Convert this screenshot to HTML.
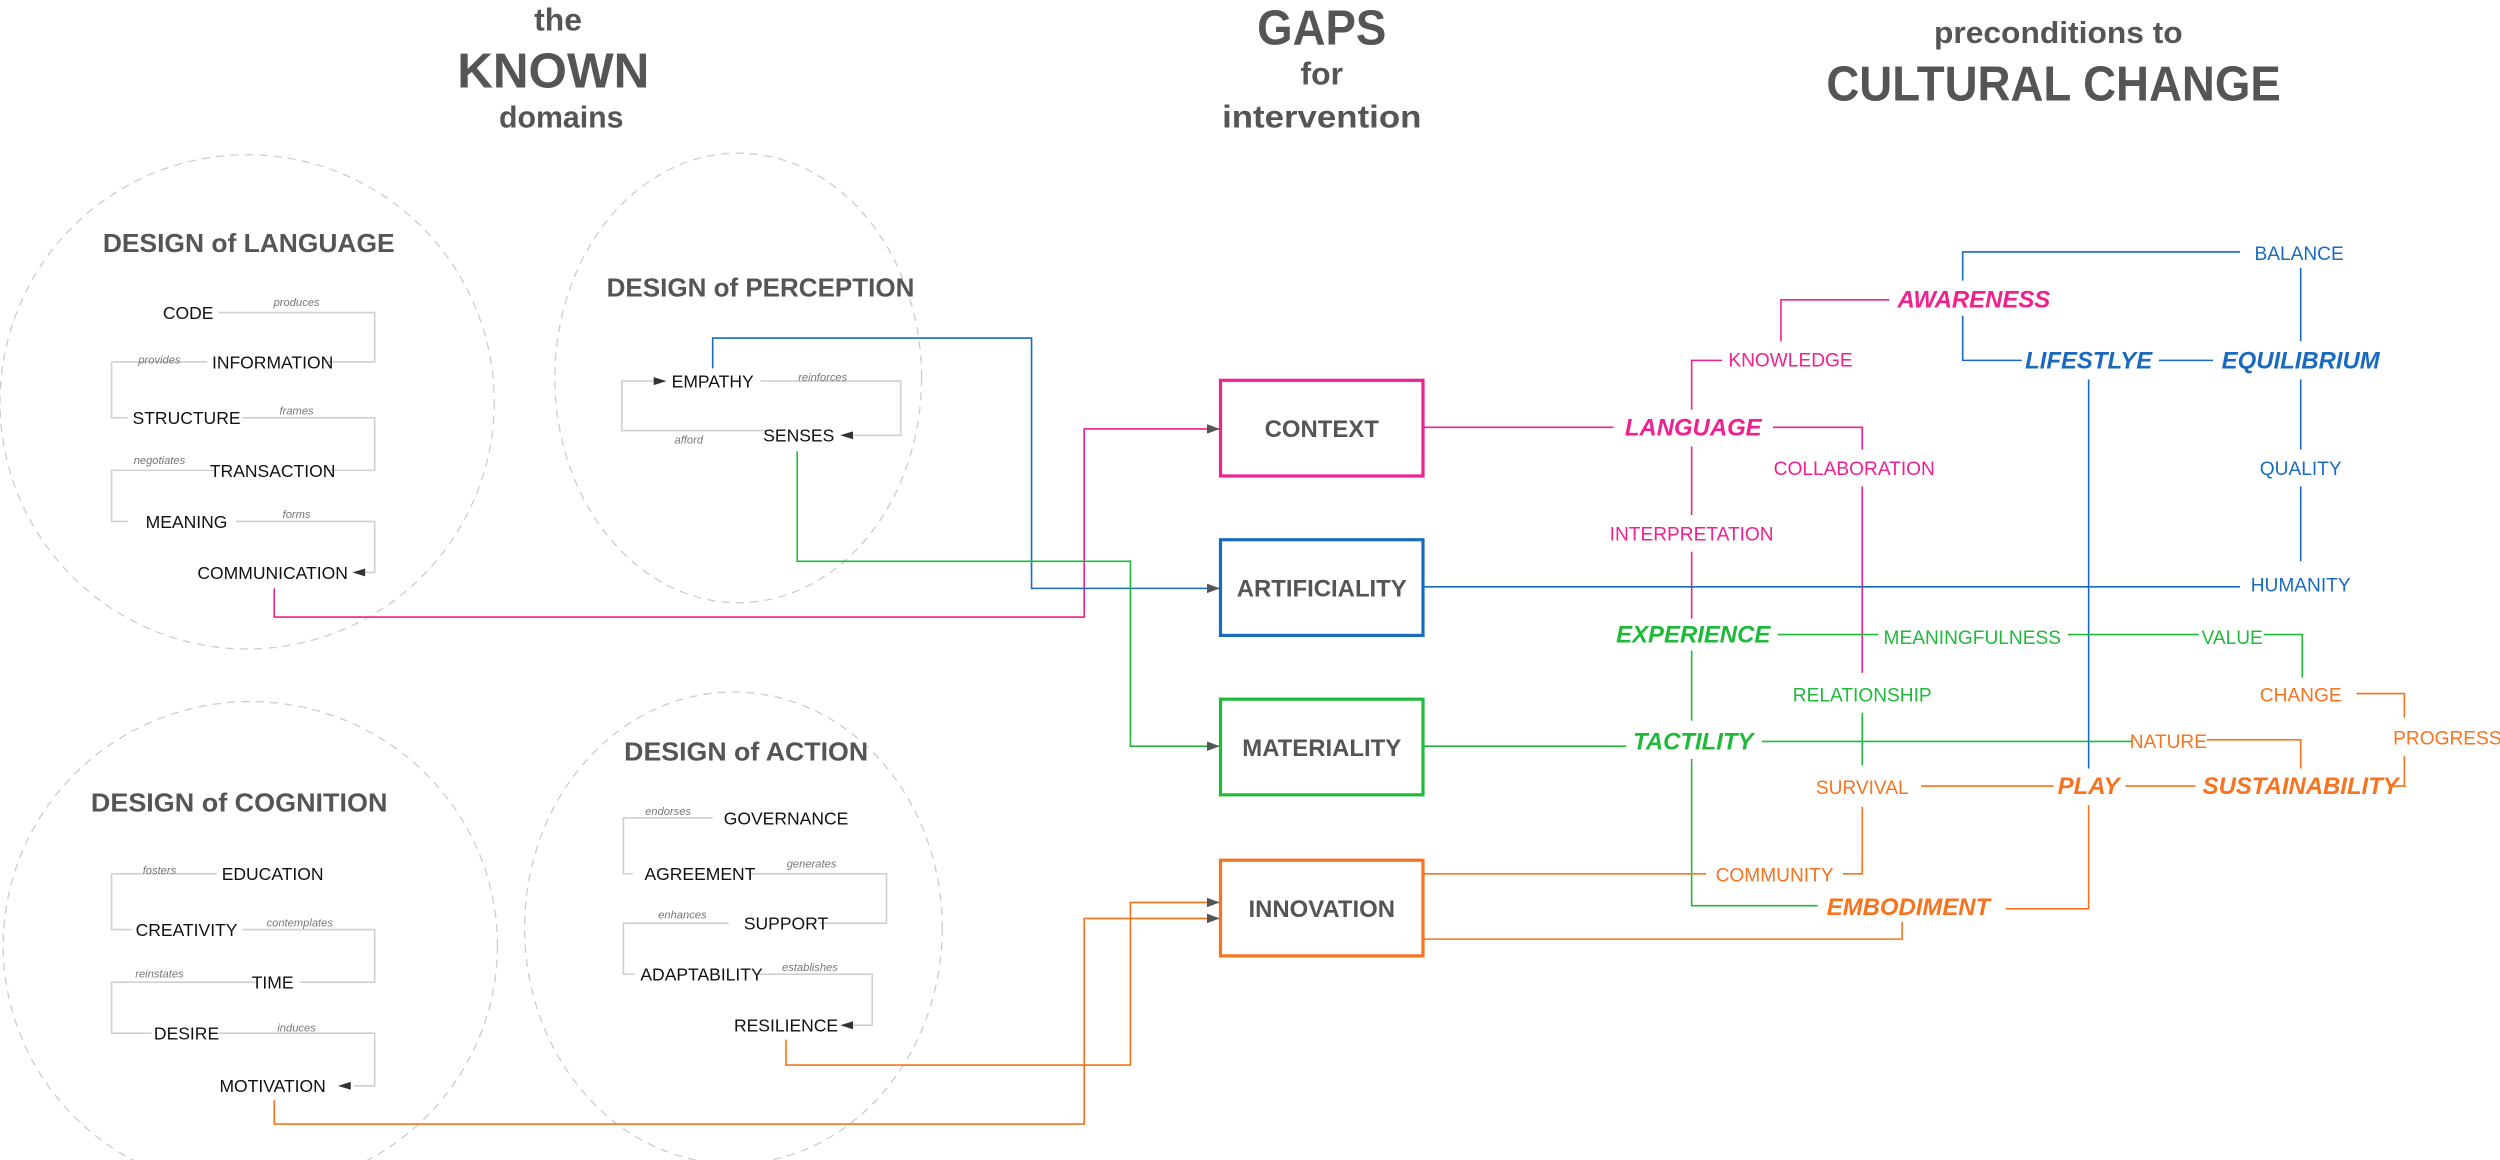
<!DOCTYPE html>
<html><head><meta charset="utf-8"><style>
html,body{margin:0;padding:0;background:#fff;}
svg{display:block;}
text{font-family:"Liberation Sans",sans-serif;}
.h{fill:#555;font-weight:bold;text-anchor:middle;}
.it{font-size:11px;fill:#111;text-anchor:middle;}
.sm{font-size:7px;fill:#777;font-style:italic;text-anchor:middle;}
.br{stroke:#d0d0d0;stroke-width:1;fill:none;}
.ci{stroke:#ccc;stroke-width:0.8;fill:none;stroke-dasharray:5 4;}
.bx{fill:#fff;stroke-width:2;}
.bl{font-size:15px;font-weight:bold;fill:#555;text-anchor:middle;}
.P{stroke:#f0208f;fill:none;stroke-width:1;}
.B{stroke:#1a6bbf;fill:none;stroke-width:1;}
.G{stroke:#1fba3a;fill:none;stroke-width:1;}
.O{stroke:#f7731e;fill:none;stroke-width:1;}
.n{font-size:12px;text-anchor:middle;}
.N{font-size:15px;text-anchor:middle;font-weight:bold;font-style:italic;}
.p{fill:#f0208f}.b{fill:#1a6bbf}.g{fill:#1fba3a}.o{fill:#f7731e}
</style></head><body>
<svg width="2500" height="1160" viewBox="0 0 1568 727.5" xmlns="http://www.w3.org/2000/svg">
<defs>
<marker id="ar" markerWidth="8" markerHeight="6" refX="8" refY="3" orient="auto" markerUnits="userSpaceOnUse"><path d="M0,0 L8,3 L0,6 Z" fill="#555"/></marker>
</defs>
<!-- headings -->
<text class="h" x="350" y="19" font-size="20">the</text>
<text class="h" x="347" y="55" font-size="31">KNOWN</text>
<text class="h" x="352" y="80" font-size="19">domains</text>
<text class="h" x="829" y="28" font-size="31" textLength="81" lengthAdjust="spacingAndGlyphs">GAPS</text>
<text class="h" x="829" y="53" font-size="20">for</text>
<text class="h" x="829" y="80" font-size="20" textLength="125" lengthAdjust="spacingAndGlyphs">intervention</text>
<text class="h" x="1291" y="27" font-size="19" textLength="156" lengthAdjust="spacingAndGlyphs">preconditions to</text>
<text class="h" x="1288" y="63" font-size="31" textLength="285" lengthAdjust="spacingAndGlyphs">CULTURAL CHANGE</text>

<!-- circles -->
<ellipse class="ci" cx="155" cy="252" rx="155" ry="155"/>
<ellipse class="ci" cx="463" cy="237" rx="115" ry="141"/>
<ellipse class="ci" cx="157" cy="593" rx="155" ry="153"/>
<ellipse class="ci" cx="460" cy="582" rx="131" ry="148"/>

<!-- Language -->
<text class="h" x="156" y="158" font-size="16" textLength="183" lengthAdjust="spacingAndGlyphs">DESIGN of LANGUAGE</text>
<path class="br" d="M137,196 H235 V227 H205 M130,227 H70 V262 H80 M152,262 H235 V295 H205 M135,295 H70 V327 H80 M148,327 H235 V359 H226"/>
<text class="it" x="118" y="200">CODE</text>
<text class="it" x="171" y="231">INFORMATION</text>
<text class="it" x="117" y="266">STRUCTURE</text>
<text class="it" x="171" y="299">TRANSACTION</text>
<text class="it" x="117" y="331">MEANING</text>
<text class="it" x="171" y="363">COMMUNICATION</text>
<path d="M221,359 l8,-2.5 v5z" fill="#333"/>
<text class="sm" x="186" y="192">produces</text>
<text class="sm" x="100" y="228">provides</text>
<text class="sm" x="186" y="260">frames</text>
<text class="sm" x="100" y="291">negotiates</text>
<text class="sm" x="186" y="325">forms</text>

<!-- Perception -->
<text class="h" x="477" y="186" font-size="16" textLength="193" lengthAdjust="spacingAndGlyphs">DESIGN of PERCEPTION</text>
<path class="br" d="M477,239 H565 V273 H530 M481,270 H390 V239 H412"/>
<path d="M418,239 l-8,-2.5 v5z" fill="#333"/>
<text class="it" x="447" y="243">EMPATHY</text>
<text class="it" x="501" y="277">SENSES</text>
<path d="M527,273 l8,-2.5 v5z" fill="#333"/>
<text class="sm" x="516" y="239">reinforces</text>
<text class="sm" x="432" y="278">afford</text>

<!-- Cognition -->
<text class="h" x="150" y="509" font-size="16" textLength="186" lengthAdjust="spacingAndGlyphs">DESIGN of COGNITION</text>
<path class="br" d="M136,548 H70 V583 H83 M152,583 H235 V616 H188 M160,616 H70 V648 H95 M137,648 H235 V681 H222"/>
<text class="it" x="171" y="552">EDUCATION</text>
<text class="it" x="117" y="587">CREATIVITY</text>
<text class="it" x="171" y="620">TIME</text>
<text class="it" x="117" y="652">DESIRE</text>
<text class="it" x="171" y="685">MOTIVATION</text>
<path d="M212,681 l8,-2.5 v5z" fill="#333"/>
<text class="sm" x="100" y="548">fosters</text>
<text class="sm" x="188" y="581">contemplates</text>
<text class="sm" x="100" y="613">reinstates</text>
<text class="sm" x="186" y="647">induces</text>

<!-- Action -->
<text class="h" x="468" y="477" font-size="16" textLength="153" lengthAdjust="spacingAndGlyphs">DESIGN of ACTION</text>
<path class="br" d="M447,513 H391 V548 H397 M470,548 H556 V579 H514 M457,579 H391 V611 H398 M475,611 H547 V643 H534"/>
<text class="it" x="493" y="517">GOVERNANCE</text>
<text class="it" x="439" y="552">AGREEMENT</text>
<text class="it" x="493" y="583">SUPPORT</text>
<text class="it" x="440" y="615">ADAPTABILITY</text>
<text class="it" x="493" y="647">RESILIENCE</text>
<path d="M527,643 l8,-2.5 v5z" fill="#333"/>
<text class="sm" x="419" y="511">endorses</text>
<text class="sm" x="509" y="544">generates</text>
<text class="sm" x="428" y="576">enhances</text>
<text class="sm" x="508" y="609">establishes</text>

<!-- connectors left -->
<path class="P" d="M172,369 V387 H680 V269 H765" marker-end="url(#ar)"/>
<path class="B" d="M447,231 V212 H647 V369 H765" marker-end="url(#ar)"/>
<path class="G" d="M500,283 V352 H709 V468 H765" marker-end="url(#ar)"/>
<path class="O" d="M493,652 V668 H709 V566 H765" marker-end="url(#ar)"/>
<path class="O" d="M172,690 V705 H680 V576 H765" marker-end="url(#ar)"/>

<!-- boxes -->
<rect class="bx" x="765.5" y="238.5" width="127" height="60" stroke="#f0208f"/>
<rect class="bx" x="765.5" y="338.5" width="127" height="60" stroke="#1a6bbf"/>
<rect class="bx" x="765.5" y="438.5" width="127" height="60" stroke="#1fba3a"/>
<rect class="bx" x="765.5" y="539.5" width="127" height="60" stroke="#f7731e"/>
<text class="bl" x="829" y="274">CONTEXT</text>
<text class="bl" x="829" y="374">ARTIFICIALITY</text>
<text class="bl" x="829" y="474">MATERIALITY</text>
<text class="bl" x="829" y="575">INNOVATION</text>

<!-- right connectors -->
<path class="P" d="M892,268 H1012 M1112,268 H1168 V282 M1168,305 V422 M1061,257 V226 H1080 M1117,214 V188 H1185 M1061,280 V323 M1061,346 V388"/>
<path class="B" d="M892,368 H1405 M1231,176 V158 H1405 M1231,198 V226 H1268 M1354,226 H1388 M1443,168 V214 M1443,238 V282 M1443,305 V352 M1310,238 V482"/>
<path class="G" d="M892,468 H1020 M1105,465 H1337 M1115,398 H1178 M1297,398 H1379 M1420,398 H1444 V425 M1061,408 V452 M1061,476 V568 H1140 M1168,447 V480"/>
<path class="O" d="M892,548 H1070 M1156,548 H1168 V506 M892,589 H1193 V578 M1384,464 H1443 V482 M1478,435 H1508 V450 M1508,474 V493 H1509 H1500 M1205,493 H1288 M1333,493 H1377 M1310,505 V570 H1258"/>

<!-- right labels -->
<text class="N p" x="1238" y="193">AWARENESS</text>
<text class="n p" x="1123" y="230">KNOWLEDGE</text>
<text class="N p" x="1062" y="273">LANGUAGE</text>
<text class="n p" x="1163" y="298">COLLABORATION</text>
<text class="n p" x="1061" y="339">INTERPRETATION</text>
<text class="n b" x="1442" y="163">BALANCE</text>
<text class="N b" x="1310" y="231">LIFESTLYE</text>
<text class="N b" x="1443" y="231">EQUILIBRIUM</text>
<text class="n b" x="1443" y="298">QUALITY</text>
<text class="n b" x="1443" y="371">HUMANITY</text>
<text class="N g" x="1062" y="403">EXPERIENCE</text>
<text class="n g" x="1237" y="404">MEANINGFULNESS</text>
<text class="n g" x="1400" y="404">VALUE</text>
<text class="n g" x="1168" y="440">RELATIONSHIP</text>
<text class="N g" x="1062" y="470">TACTILITY</text>
<text class="n o" x="1443" y="440">CHANGE</text>
<text class="n o" x="1360" y="469">NATURE</text>
<text class="n o" x="1535" y="467">PROGRESS</text>
<text class="n o" x="1168" y="498">SURVIVAL</text>
<text class="N o" x="1310" y="498">PLAY</text>
<text class="N o" x="1443" y="498">SUSTAINABILITY</text>
<text class="n o" x="1113" y="553">COMMUNITY</text>
<text class="N o" x="1197" y="574">EMBODIMENT</text>
</svg>
</body></html>
